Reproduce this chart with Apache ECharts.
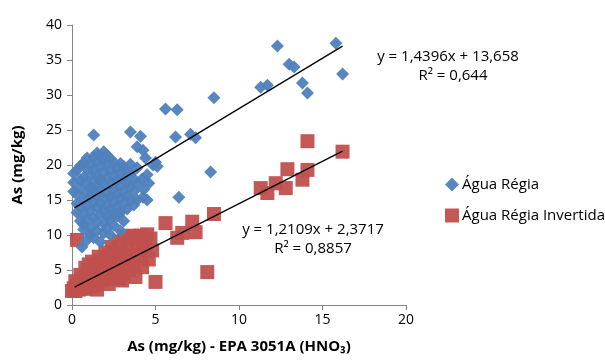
<!DOCTYPE html>
<html>
<head>
<meta charset="utf-8">
<script src="https://cdn.jsdelivr.net/npm/echarts@6/dist/echarts.min.js"></script>
<style>html,body{margin:0;padding:0;background:#fff}#c{width:605px;height:361px}</style>
</head>
<body>
<div id="c"></div>
<script>
const seriesNames = ['Água Régia', 'Água Régia Invertida'];
const xTicks = [0, 5, 10, 15, 20];
const yTicks = [0, 5, 10, 15, 20, 25, 30, 35, 40];

const aguaRegia = [
  [12.3,37.0],[15.8,37.4],[13.0,34.4],[13.3,34.0],[16.2,33.0],[11.3,31.1],[11.7,31.4],[13.8,31.7],[14.1,30.3],
  [8.5,29.6],[5.6,28.0],[6.3,27.9],[6.2,24.0],[7.1,24.4],[7.4,23.9],[8.3,19.0],[6.4,15.4],
  [3.5,24.7],[4.1,24.1],[1.3,24.3],[3.9,22.6],[4.25,22.1],[4.4,21.0],[4.85,20.0],[5.0,20.4],[5.1,19.8],
  [4.5,18.6],[4.2,18.0],[4.6,17.4],[4.3,16.5],[4.5,15.0],[4.25,15.4],[3.9,15.0],[3.7,14.3],[3.3,13.7],[2.8,13.0],
  [0.1,16.2],[0.1,17.5],[0.1,18.8],
  [0.3,14.5],[0.3,15.8],[0.3,19.3],[0.3,13.2],
  [0.5,12.0],[0.5,16.7],[0.5,17.9],[0.5,19.9],[0.5,14.0],
  [0.7,10.8],[0.7,11.5],[0.7,13.0],[0.7,15.0],[0.7,18.2],[0.7,20.3],
  [0.6,8.3],[0.9,9.3],[0.9,12.2],[0.9,14.3],[0.9,16.0],[0.9,17.3],[0.9,19.4],[0.9,21.0],
  [1.1,10.0],[1.1,11.0],[1.1,13.5],[1.1,15.4],[1.1,16.8],[1.1,18.6],[1.1,20.0],
  [1.3,9.6],[1.3,12.5],[1.3,14.8],[1.3,16.3],[1.3,17.7],[1.3,19.3],[1.3,21.2],
  [1.5,10.6],[1.5,11.8],[1.5,13.9],[1.5,15.7],[1.5,17.0],[1.5,18.4],[1.5,20.5],[1.5,21.7],
  [1.7,9.0],[1.7,12.9],[1.7,14.5],[1.7,16.5],[1.7,18.0],[1.7,19.8],[1.7,21.2],
  [1.9,10.3],[1.9,11.6],[1.9,13.4],[1.9,15.2],[1.9,17.4],[1.9,19.0],[1.9,20.7],[1.9,21.9],
  [2.1,11.0],[2.1,12.6],[2.1,14.2],[2.1,16.0],[2.1,18.1],[2.1,20.1],[2.1,21.4],
  [2.3,10.0],[2.3,12.3],[2.3,13.7],[2.3,15.5],[2.3,17.3],[2.3,19.3],[2.3,20.9],
  [2.5,11.4],[2.5,13.1],[2.5,14.8],[2.5,16.6],[2.5,18.5],[2.5,20.4],
  [2.7,12.7],[2.7,14.0],[2.7,15.9],[2.7,17.8],[2.7,19.6],
  [2.9,10.6],[2.9,13.3],[2.9,15.3],[2.9,17.0],[2.9,18.9],[2.9,20.2],
  [3.1,12.0],[3.1,14.5],[3.1,16.3],[3.1,18.1],[3.1,19.8],
  [3.3,15.6],[3.3,17.5],[3.3,19.2],
  [3.5,15.0],[3.5,16.9],[3.5,18.7],[3.5,20.1],
  [3.7,16.2],[3.7,18.0],
  [3.9,17.3],[3.9,19.6]
];

const aguaRegiaInvertida = [
  [0.0,2.0],[0.1,2.4],[0.2,2.0],[0.3,2.8],[0.4,2.2],[0.5,3.0],[0.6,2.5],[0.7,3.5],[0.8,2.3],[0.9,4.0],
  [1.0,3.0],[1.1,2.6],[1.2,4.5],[1.3,3.4],[1.4,2.9],[1.5,5.0],[1.6,3.8],[1.7,4.3],[1.8,6.0],[1.9,3.6],
  [2.0,5.3],[2.1,4.5],[2.2,6.6],[2.3,3.9],[2.4,5.8],[2.5,7.0],[2.6,4.8],[2.7,6.2],[2.8,3.7],[2.9,7.5],
  [3.0,5.5],[3.1,4.4],[3.2,6.8],[3.3,8.2],[3.4,5.0],[3.5,7.2],[3.6,9.5],[3.7,6.0],[3.8,4.0],[3.9,8.5],
  [4.0,9.8],[4.1,7.0],[4.2,5.4],[4.3,9.0],[4.4,8.0],[4.5,10.1],[4.6,6.5],[4.7,9.5],[4.8,7.8],[5.0,3.3],
  [0.3,9.3],[0.5,4.3],[0.2,3.4],[0.8,5.3],[1.2,6.2],[1.0,5.8],[1.6,6.9],[2.0,7.5],[2.4,8.3],[2.8,9.0],
  [3.1,9.8],[3.6,9.9],[4.1,9.9],[1.5,2.2],[2.2,3.0],[3.0,3.5],
  [5.6,11.7],[6.3,9.6],[6.6,10.3],[7.2,11.9],[7.4,10.4],[8.1,4.7],[8.5,13.0],
  [11.3,16.7],[11.7,16.0],[12.2,17.4],[12.8,16.7],[12.9,19.4],[13.8,17.9],[14.1,19.3],[14.1,23.4],[16.2,21.9]
];

const trendRegia = { slope: 1.4396, intercept: 13.658, label: 'y = 1,4396x + 13,658', r2: 'R² = 0,644' };
const trendInvertida = { slope: 1.2109, intercept: 2.3717, label: 'y = 1,2109x + 2,3717', r2: 'R² = 0,8857' };
const trendRange = [0.15, 16.2];

function trendLine(t) {
  return trendRange.map(x => [x, t.slope * x + t.intercept]);
}

const FONT = '"Open Sans", "Noto Sans", sans-serif';
const chart = echarts.init(document.getElementById('c'), null, { renderer: 'canvas' });

function eqText(text, x, y) {
  return { type: 'text', x: x, y: y, style: { text: text, font: '15px ' + FONT, fill: '#000', align: 'center', verticalAlign: 'middle' } };
}

chart.setOption({
  animation: false,
  backgroundColor: '#fff',
  grid: { left: 72, right: 199, top: 25, bottom: 56, containLabel: false },
  xAxis: {
    type: 'value', min: xTicks[0], max: xTicks[xTicks.length - 1], interval: 5,
    name: 'As (mg/kg) - EPA 3051A (HNO₃)', nameLocation: 'middle', nameGap: 34,
    nameTextStyle: { fontFamily: FONT, fontSize: 15, fontWeight: 'bold', color: '#000' },
    axisLine: { lineStyle: { color: '#868686', width: 1 } },
    axisTick: { show: true, length: 5, lineStyle: { color: '#868686' } },
    axisLabel: { fontFamily: FONT, fontSize: 14, color: '#000', margin: 8 },
    splitLine: { show: false }
  },
  yAxis: {
    type: 'value', min: yTicks[0], max: yTicks[yTicks.length - 1], interval: 5,
    name: 'As (mg/kg)', nameLocation: 'middle', nameGap: 47, nameRotate: 90,
    nameTextStyle: { fontFamily: FONT, fontSize: 15, fontWeight: 'bold', color: '#000' },
    axisLine: { show: true, lineStyle: { color: '#868686', width: 1 } },
    axisTick: { show: true, length: 5, lineStyle: { color: '#868686' } },
    axisLabel: { fontFamily: FONT, fontSize: 14, color: '#000', margin: 10 },
    splitLine: { show: false }
  },
  legend: {
    data: [
      { name: seriesNames[0], icon: 'diamond' },
      { name: seriesNames[1], icon: 'rect' }
    ],
    orient: 'vertical', left: 440, top: 172, itemWidth: 14, itemHeight: 14, itemGap: 16,
    textStyle: { fontFamily: FONT, fontSize: 15, color: '#000', padding: [0, 0, 0, -2] }
  },
  series: [
    {
      name: seriesNames[0], type: 'scatter', data: aguaRegia, symbol: 'diamond', symbolSize: 13,
      itemStyle: { color: '#4F81BD', opacity: 0.95 }, z: 3
    },
    {
      name: seriesNames[1], type: 'scatter', data: aguaRegiaInvertida, symbol: 'rect', symbolSize: 14,
      itemStyle: { color: '#C0504D', opacity: 0.95 }, z: 2
    },
    {
      name: 'trend1', type: 'line', data: trendLine(trendRegia), showSymbol: false, symbol: 'none',
      lineStyle: { color: '#000', width: 1.3 }, silent: true, z: 5
    },
    {
      name: 'trend2', type: 'line', data: trendLine(trendInvertida), showSymbol: false, symbol: 'none',
      lineStyle: { color: '#000', width: 1.3 }, silent: true, z: 5
    }
  ],
  graphic: [
    eqText(trendRegia.label, 448, 57),
    eqText(trendRegia.r2, 453, 76),
    eqText(trendInvertida.label, 313, 230),
    eqText(trendInvertida.r2, 313, 249)
  ]
});
</script>
</body>
</html>
